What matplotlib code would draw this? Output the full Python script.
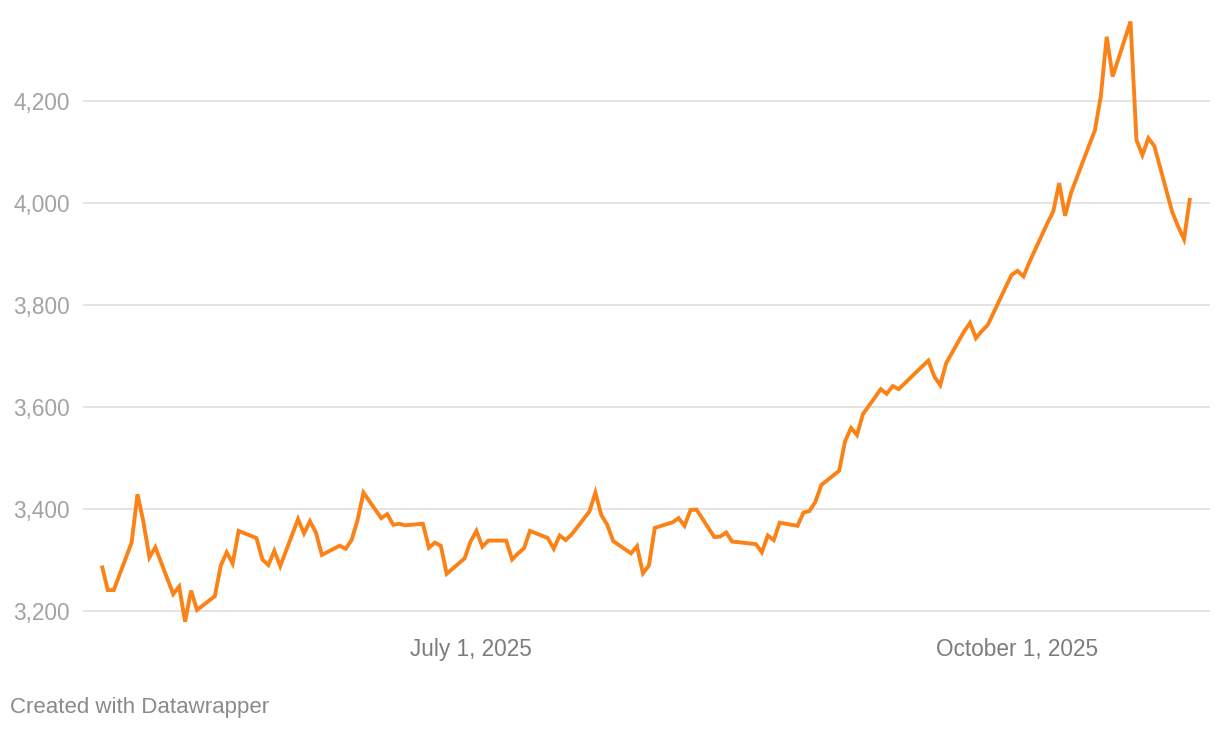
import pandas as pd
import matplotlib
matplotlib.use("Agg")
import matplotlib.pyplot as plt

# Daily values
dates = [
    "2025-04-30", "2025-05-01", "2025-05-02", "2025-05-05", "2025-05-06", "2025-05-07",
    "2025-05-08", "2025-05-09", "2025-05-12", "2025-05-13", "2025-05-14", "2025-05-15",
    "2025-05-16", "2025-05-19", "2025-05-20", "2025-05-21", "2025-05-22", "2025-05-23",
    "2025-05-26", "2025-05-27", "2025-05-28", "2025-05-29", "2025-05-30", "2025-06-02",
    "2025-06-03", "2025-06-04", "2025-06-05", "2025-06-06", "2025-06-09", "2025-06-10",
    "2025-06-11", "2025-06-12", "2025-06-13", "2025-06-16", "2025-06-17", "2025-06-18",
    "2025-06-19", "2025-06-20", "2025-06-23", "2025-06-24", "2025-06-25", "2025-06-26",
    "2025-06-27", "2025-06-30", "2025-07-01", "2025-07-02", "2025-07-03", "2025-07-04",
    "2025-07-07", "2025-07-08", "2025-07-09", "2025-07-10", "2025-07-11", "2025-07-14",
    "2025-07-15", "2025-07-16", "2025-07-17", "2025-07-18", "2025-07-21", "2025-07-22",
    "2025-07-23", "2025-07-24", "2025-07-25", "2025-07-28", "2025-07-29", "2025-07-30",
    "2025-07-31", "2025-08-01", "2025-08-04", "2025-08-05", "2025-08-06", "2025-08-07",
    "2025-08-08", "2025-08-11", "2025-08-12", "2025-08-13", "2025-08-14", "2025-08-15",
    "2025-08-18", "2025-08-19", "2025-08-20", "2025-08-21", "2025-08-22", "2025-08-25",
    "2025-08-26", "2025-08-27", "2025-08-28", "2025-08-29", "2025-09-01", "2025-09-02",
    "2025-09-03", "2025-09-04", "2025-09-05", "2025-09-08", "2025-09-09", "2025-09-10",
    "2025-09-11", "2025-09-12", "2025-09-15", "2025-09-16", "2025-09-17", "2025-09-18",
    "2025-09-19", "2025-09-22", "2025-09-23", "2025-09-24", "2025-09-25", "2025-09-26",
    "2025-09-29", "2025-09-30", "2025-10-01", "2025-10-02", "2025-10-03", "2025-10-06",
    "2025-10-07", "2025-10-08", "2025-10-09", "2025-10-10", "2025-10-13", "2025-10-14",
    "2025-10-15", "2025-10-16", "2025-10-17", "2025-10-20", "2025-10-21", "2025-10-22",
    "2025-10-23", "2025-10-24", "2025-10-27", "2025-10-28", "2025-10-29", "2025-10-30",
]
values = [
    3289, 3241, 3241, 3334, 3429, 3374,
    3305, 3325, 3233, 3248, 3179, 3240,
    3202, 3229, 3289, 3315, 3293, 3357,
    3343, 3301, 3290, 3318, 3288, 3380,
    3352, 3376, 3354, 3310, 3328, 3322,
    3339, 3378, 3432, 3382, 3390, 3369,
    3371, 3368, 3371, 3324, 3334, 3328,
    3273, 3303, 3336, 3357, 3326, 3338,
    3338, 3301, 3313, 3323, 3357, 3343,
    3322, 3348, 3339, 3350, 3395, 3432,
    3388, 3369, 3337, 3313, 3327, 3274,
    3289, 3363, 3374, 3382, 3367, 3398,
    3399, 3345, 3346, 3354, 3336, 3335,
    3331, 3315, 3348, 3339, 3373, 3367,
    3393, 3396, 3414, 3447, 3475, 3533,
    3559, 3545, 3586, 3635, 3626, 3641,
    3635, 3646, 3680, 3691, 3660, 3643,
    3686, 3748, 3765, 3735, 3749, 3761,
    3835, 3859, 3867, 3856, 3884, 3960,
    3983, 4039, 3975, 4020, 4112, 4142,
    4209, 4326, 4248, 4356, 4124, 4094,
    4127, 4112, 3983, 3954, 3929, 4010,
]
y_ticks = [3200, 3400, 3600, 3800, 4000, 4200]
x_ticks = ["2025-07-01", "2025-10-01"]
x_tick_labels = ["July 1, 2025", "October 1, 2025"]

plt.rcParams['font.family'] = ['Liberation Sans', 'DejaVu Sans']

dt = pd.to_datetime(dates)

fig = plt.figure(figsize=(12.2, 7.3), dpi=100)
ax = fig.add_axes([83 / 1220, 1 - 630 / 730, (1210 - 83) / 1220, 615 / 730])

ax.plot(dt, values, color='#fb8216', linewidth=2.8, solid_joinstyle='miter',
        solid_capstyle='butt', zorder=3)

# x range so that July 1 / Oct 1 land where the reference puts them
july1 = pd.Timestamp("2025-07-01")
ax.set_xlim(july1 - pd.Timedelta(days=65.17), july1 + pd.Timedelta(days=124.37))
ax.set_ylim(3162.7, 4368.7)

ax.set_yticks(y_ticks)
ax.set_yticklabels([f"{v:,}" for v in y_ticks])
ax.set_xticks(pd.to_datetime(x_ticks))
ax.set_xticklabels(x_tick_labels)

ax.grid(axis='y', color='#e2e2e2', linewidth=1.3, zorder=0)
ax.grid(axis='x', visible=False)
for s in ax.spines.values():
    s.set_visible(False)

ax.tick_params(axis='y', length=0, pad=9.5, labelsize=16.3, labelcolor='#a3a3a3')
ax.tick_params(axis='x', length=0, pad=6, labelsize=16.3, labelcolor='#7c7c7c')

fig.text(10 / 1220, 1 - 707 / 730, "Created with Datawrapper", fontsize=16,
         color='#8a8a8a', ha='left', va='center')

fig.savefig("out.png", dpi=100, facecolor='white')
